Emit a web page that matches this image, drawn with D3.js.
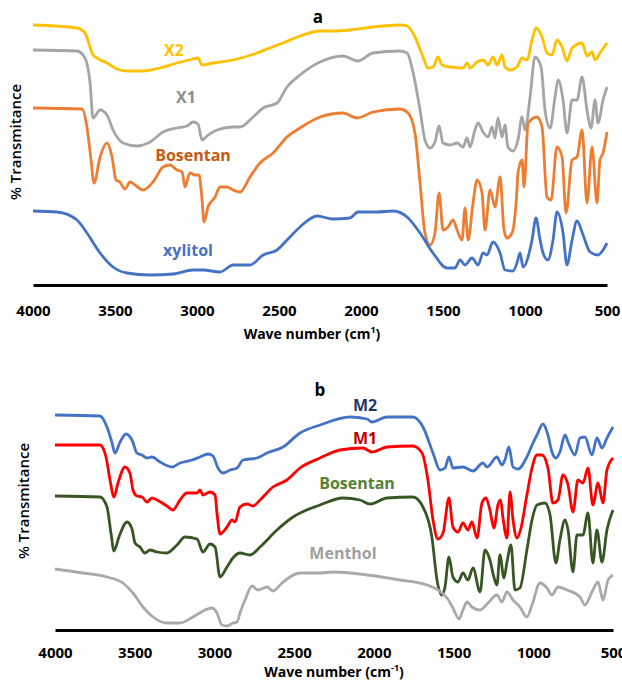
<!DOCTYPE html>
<html>
<head>
<meta charset="utf-8">
<script src="https://cdn.jsdelivr.net/npm/d3@7"></script>
<style>
  html, body { margin: 0; padding: 0; background: #fff; }
  svg { display: block; }
  text { font-family: "Open Sans", "Liberation Sans", Arial, sans-serif; }
</style>
</head>
<body>
<svg id="chart" width="622" height="682"></svg>
<script>
// ---------- DATA (wavenumber cm-1, relative transmittance, arbitrary offset units) ----------
const tickValues = [4000, 3500, 3000, 2500, 2000, 1500, 1000, 500];

// Panel a
const seriesA_X2 = [[4000,260],[3732,257],[3683,252],[3634,230],[3610,227],[3549,222],[3488,216],[3427,214],[3329,214],[3226,217],[3122,222],[3024,226],[2994,227],[2969,220],[2902,222],[2780,225],[2634,232],[2573,236],[2476,242],[2372,249],[2250,254],[2171,254],[2067,255],[1927,258],[1762,260],[1719,259],[1671,248],[1622,228],[1591,217],[1561,218],[1530,228],[1506,220],[1457,218],[1378,217],[1353,222],[1335,217],[1292,223],[1256,225],[1225,220],[1195,228],[1171,220],[1140,230],[1122,218],[1091,215],[1049,218],[1018,227],[988,225],[957,245],[933,257],[896,248],[866,232],[835,230],[805,245],[774,238],[744,224],[713,237],[652,242],[622,229],[591,233],[573,225],[543,232],[500,242]];
const seriesA_X1 = [[4000,235],[3732,234],[3683,227],[3652,202],[3634,167],[3591,175],[3549,170],[3512,155],[3451,142],[3366,139],[3287,143],[3207,153],[3122,157],[3061,159],[3024,163],[2994,161],[2969,145],[2939,149],[2878,155],[2780,158],[2738,158],[2658,168],[2597,177],[2512,182],[2451,198],[2372,210],[2250,223],[2110,229],[2018,224],[1927,232],[1762,234],[1719,232],[1683,213],[1640,175],[1610,145],[1579,137],[1549,143],[1524,159],[1500,142],[1457,140],[1414,142],[1378,138],[1353,147],[1335,138],[1305,155],[1286,162],[1256,153],[1225,148],[1201,158],[1183,147],[1165,167],[1140,148],[1122,160],[1104,138],[1073,134],[1043,145],[1018,168],[1000,155],[969,188],[939,228],[902,218],[878,175],[847,157],[817,188],[798,205],[768,185],[744,152],[713,185],[683,185],[652,208],[622,175],[597,157],[573,185],[555,162],[524,185],[500,198]];
const seriesA_Bosentan = [[4000,177],[3701,176],[3671,158],[3646,125],[3628,102],[3591,128],[3549,142],[3518,128],[3494,105],[3470,103],[3439,96],[3408,103],[3378,100],[3329,95],[3268,103],[3207,118],[3165,120],[3122,115],[3091,113],[3073,98],[3043,112],[3012,110],[2988,110],[2969,85],[2957,63],[2933,78],[2890,88],[2860,98],[2817,98],[2780,95],[2738,93],[2677,108],[2616,122],[2536,132],[2451,148],[2372,157],[2250,168],[2110,172],[2024,167],[1927,173],[1762,176],[1713,172],[1671,152],[1640,102],[1610,52],[1579,40],[1549,52],[1524,92],[1500,55],[1469,58],[1439,65],[1414,55],[1384,45],[1366,77],[1347,45],[1317,82],[1292,105],[1262,92],[1244,55],[1213,95],[1183,78],[1152,108],[1128,55],[1110,47],[1079,52],[1049,95],[1043,112],[1018,125],[1006,98],[981,162],[927,168],[896,158],[866,88],[841,85],[805,138],[774,128],[750,72],[713,125],[683,128],[652,155],[622,82],[591,138],[561,82],[543,125],[524,132],[500,153]];
const seriesA_Xylitol = [[4000,74],[3854,73],[3732,65],[3671,52],[3591,32],[3512,18],[3427,12],[3287,10],[3146,11],[3024,15],[2963,15],[2860,13],[2780,20],[2677,20],[2597,30],[2512,35],[2451,45],[2372,58],[2268,69],[2171,66],[2067,67],[2018,73],[1902,73],[1805,74],[1719,68],[1640,52],[1561,32],[1475,17],[1427,17],[1396,25],[1366,20],[1323,27],[1286,20],[1256,32],[1232,30],[1195,43],[1152,32],[1122,15],[1073,14],[1049,22],[1030,32],[1012,18],[957,45],[933,67],[908,45],[890,32],[860,25],[829,45],[805,73],[768,52],[744,20],[713,45],[683,64],[646,50],[603,33],[555,30],[524,35],[500,42]];

// Panel b
const seriesB_M2 = [[4000,215],[3718,214],[3674,203],[3642,187],[3624,177],[3592,188],[3555,196],[3517,190],[3486,177],[3454,175],[3423,172],[3392,173],[3341,168],[3266,163],[3216,167],[3141,170],[3091,173],[3040,176],[3009,174],[2978,162],[2946,157],[2902,160],[2858,162],[2821,170],[2733,172],[2670,177],[2570,183],[2463,197],[2338,205],[2150,213],[2043,211],[2012,208],[1918,213],[1755,213],[1692,203],[1629,177],[1585,160],[1554,162],[1529,173],[1504,162],[1441,163],[1378,159],[1316,167],[1290,163],[1228,173],[1197,165],[1178,170],[1153,183],[1127,163],[1096,161],[1040,173],[1002,187],[977,195],[939,206],[908,195],[883,178],[858,172],[833,178],[801,195],[782,188],[739,175],[707,192],[676,193],[632,175],[601,192],[569,182],[538,192],[500,203]];
const seriesB_M1 = [[4000,185],[3718,185],[3680,173],[3655,150],[3630,133],[3605,147],[3561,163],[3530,157],[3511,140],[3486,134],[3454,133],[3423,128],[3392,132],[3360,130],[3298,124],[3260,120],[3216,130],[3172,137],[3109,137],[3091,140],[3072,135],[3028,138],[2996,135],[2984,117],[2965,96],[2921,103],[2890,110],[2871,108],[2840,123],[2796,126],[2758,124],[2714,130],[2633,143],[2545,150],[2463,162],[2338,172],[2212,180],[2068,182],[2012,178],[1918,183],[1755,184],[1698,177],[1661,150],[1629,110],[1598,91],[1566,97],[1529,132],[1504,103],[1472,98],[1441,107],[1410,100],[1385,108],[1353,92],[1322,127],[1297,132],[1272,120],[1247,102],[1222,125],[1205,130],[1190,112],[1165,92],[1146,138],[1127,110],[1102,92],[1077,102],[1040,135],[1008,162],[977,175],[945,175],[908,162],[877,127],[845,130],[814,155],[782,145],[751,118],[720,150],[688,147],[657,162],[626,125],[594,147],[563,127],[538,160],[500,172]];
const seriesB_Bosentan = [[4000,134],[3718,133],[3674,123],[3649,97],[3630,79],[3599,93],[3548,108],[3517,101],[3498,87],[3467,83],[3436,77],[3404,80],[3360,78],[3298,77],[3235,85],[3185,93],[3109,91],[3072,78],[3028,86],[2996,83],[2965,53],[2921,63],[2884,72],[2840,77],[2777,75],[2714,83],[2608,100],[2507,113],[2338,125],[2194,132],[2087,130],[2024,126],[1918,132],[1755,133],[1692,123],[1636,93],[1604,50],[1573,35],[1554,43],[1529,73],[1504,53],[1472,48],[1441,57],[1410,50],[1378,62],[1334,38],[1303,80],[1272,70],[1247,53],[1228,45],[1209,75],[1184,52],[1165,68],[1140,85],[1115,40],[1084,42],[1040,80],[1008,110],[977,125],[927,127],[895,115],[858,67],[833,90],[801,110],[782,100],[751,58],[726,95],[688,95],[657,117],[626,67],[601,100],[569,68],[538,100],[500,120]];
const seriesB_Menthol = [[4000,61],[3824,57],[3674,53],[3574,47],[3511,37],[3448,23],[3385,13],[3298,7],[3216,7],[3134,13],[3059,20],[3015,22],[2984,17],[2953,5],[2921,4],[2884,7],[2858,8],[2840,17],[2808,30],[2764,44],[2727,40],[2670,43],[2633,39],[2576,47],[2526,53],[2463,57],[2338,57],[2256,58],[2043,55],[1836,50],[1667,45],[1541,32],[1504,22],[1466,11],[1441,20],[1416,28],[1385,23],[1334,20],[1284,27],[1228,35],[1197,28],[1165,38],[1127,30],[1084,23],[1040,13],[1008,25],[958,47],[914,42],[883,35],[845,43],[789,40],[707,33],[676,25],[632,38],[594,48],[563,30],[531,50],[500,55]];

const namesA = ["X2", "X1", "Bosentan", "xylitol"];
const namesB = ["M2", "M1", "Bosentan", "Menthol"];

// ---------- DRAW ----------
const svg = d3.select("#chart");

function panel(cfg) {
  const g = svg.append("g");
  const x = d3.scaleLinear().domain([4000, 500]).range(cfg.xr);
  const y = d3.scaleLinear().domain(cfg.yd).range(cfg.yr);
  const line = d3.line().x(d => x(d[0])).y(d => y(d[1])).curve(d3.curveMonotoneX);

  cfg.series.forEach((s, i) => {
    g.append("path").datum(s)
      .attr("fill", "none")
      .attr("stroke", cfg.colors[i])
      .attr("stroke-width", 2.8)
      .attr("stroke-linejoin", "round")
      .attr("d", line);
  });

  const axis = d3.axisBottom(x).tickValues(tickValues).tickSize(0)
    .tickPadding(cfg.pad).tickFormat(d3.format("d"));
  const ax = g.append("g").attr("transform", `translate(0,${cfg.yr[0]})`).call(axis);
  ax.select(".domain").attr("stroke", "#000").attr("stroke-width", 3.2);
  ax.selectAll(".tick text").attr("font-size", 15).attr("font-weight", 700)
    .attr("fill", "#000").style("font-family", '"Open Sans", sans-serif');

  // series labels
  cfg.labels.forEach((l, i) => {
    g.append("text").attr("x", l[0]).attr("y", l[1])
      .attr("text-anchor", "middle").attr("font-size", 16).attr("font-weight", 700)
      .attr("fill", cfg.labelColors[i]).text(cfg.names[i]);
  });

  // panel letter
  g.append("text").attr("x", cfg.letterPos[0]).attr("y", cfg.letterPos[1])
    .attr("text-anchor", "middle").attr("font-size", 17).attr("font-weight", 700)
    .attr("fill", "#000").text(cfg.letter);

  // y label
  g.append("text").attr("transform", `translate(${cfg.ylab[0]},${cfg.ylab[1]}) rotate(-90)`)
    .attr("text-anchor", "middle").attr("font-size", 15).attr("font-weight", 600).attr("fill", "#000")
    .text("% Transmitance");

  // x title
  const t = g.append("text").attr("x", cfg.xtitle[0]).attr("y", cfg.xtitle[1])
    .attr("text-anchor", "middle").attr("font-size", 14).attr("font-weight", 700).attr("fill", "#000");
  t.append("tspan").text("Wave number (cm");
  t.append("tspan").attr("font-size", 9).attr("dy", -6).text(cfg.sup);
  t.append("tspan").attr("dy", 6).text(")");
}

panel({
  xr: [33, 607], yd: [0, 285], yr: [285, 0], pad: 20,
  series: [seriesA_X2, seriesA_X1, seriesA_Bosentan, seriesA_Xylitol],
  colors: ["#FFC000", "#A5A5A5", "#ED7D31", "#4472C4"],
  names: namesA,
  labels: [[174, 56], [186, 103], [193, 161], [188, 256]],
  labelColors: ["#FFC000", "#8C8C8C", "#C55A11", "#4472C4"],
  letter: "a", letterPos: [318, 23],
  ylab: [21, 142], xtitle: [312, 339], sup: "1"
});

panel({
  xr: [55, 613], yd: [0, 240], yr: [630, 390], pad: 17,
  series: [seriesB_M2, seriesB_M1, seriesB_Bosentan, seriesB_Menthol],
  colors: ["#4472C4", "#FF0000", "#375623", "#A9A9A9"],
  names: namesB,
  labels: [[365, 411], [365, 444], [357, 489], [343, 559]],
  labelColors: ["#1F3864", "#C00000", "#548235", "#A0A0A0"],
  letter: "b", letterPos: [320, 396],
  ylab: [29, 501], xtitle: [334, 677], sup: "-1"
});
</script>
</body>
</html>
